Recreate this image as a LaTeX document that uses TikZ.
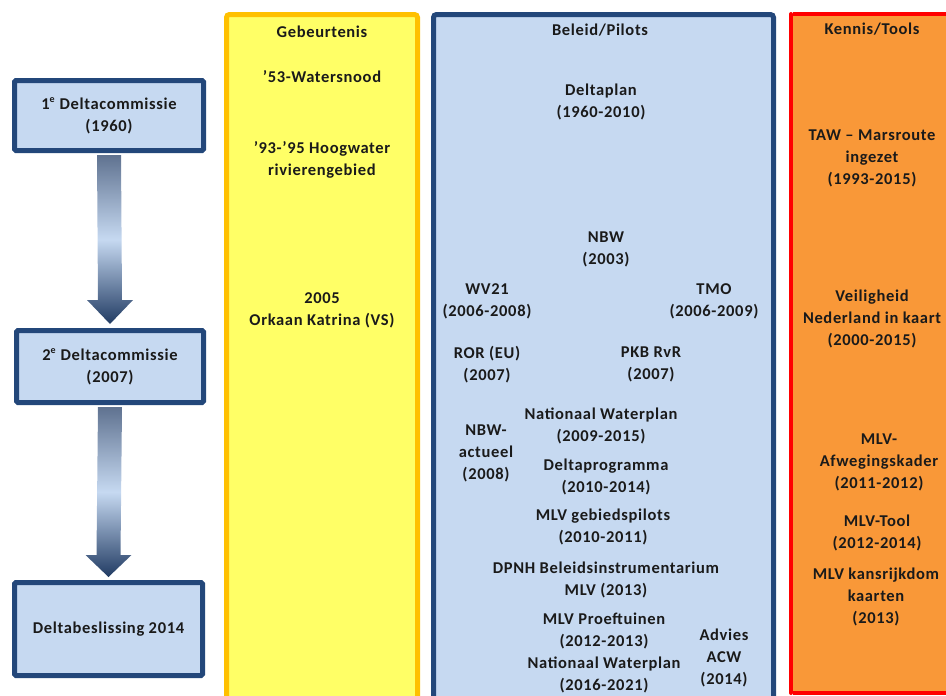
\documentclass[tikz,border=0pt]{standalone}
\usepackage{fontspec}
\setmainfont[LetterSpace=4]{Carlito}
\usetikzlibrary{calc}

\definecolor{boxblue}{HTML}{C6D9F1}
\definecolor{navy}{HTML}{23477A}
\definecolor{colyellow}{HTML}{FFFF66}
\definecolor{goldline}{HTML}{FFC000}
\definecolor{colorange}{HTML}{F99838}
\definecolor{redline}{HTML}{FF0000}
\definecolor{arrowdark}{HTML}{213B63}
\definecolor{arrowgrey}{HTML}{5F7290}
\definecolor{txt}{HTML}{1A1A1A}

\tikzset{
  stagebox/.style={draw=navy, fill=boxblue, line width=5pt, rounded corners=1.5pt,
    align=center, inner sep=0pt},
  column/.style={line width=5pt, rounded corners=3pt, inner sep=0pt},
  entry/.style={align=center, inner sep=0pt, text=txt,
    font=\fontsize{16.5}{22}\selectfont\bfseries},
  flowarrow/.style={top color=arrowgrey, bottom color=arrowdark, middle color=boxblue}
}

\begin{document}
\begin{tikzpicture}[x=1pt, y=-1pt]
\useasboundingbox (0,0) rectangle (946,696);
\begin{scope}
\clip (0,0) rectangle (946,696);

% background columns
\node[column, draw=goldline, fill=colyellow, minimum width=191, minimum height=720]
  (geb) at (322,374.5) {};
\node[column, draw=navy, fill=boxblue, minimum width=340, minimum height=720]
  (bel) at (603.5,374.5) {};
% the knowledge column runs off the right edge
\fill[colorange] (791,14) rectangle (960,693);
\draw[redline, line width=4pt] (960,14) -- (793,14);
\draw[redline, line width=4pt] (960,693) -- (793,693);
\draw[redline, line width=4pt, line cap=round] (791,14) -- (791,693);
\end{scope}
\coordinate (ken) at (872,353.5);

% stage boxes on the left
\node[stagebox, entry, minimum width=189, minimum height=70] (dc1) at (109,115.5)
  {1\textsuperscript{\fontsize{10}{10}\selectfont e} Deltacommissie\\(1960)};
\node[stagebox, entry, minimum width=187, minimum height=72] (dc2) at (110,366.5)
  {2\textsuperscript{\fontsize{10}{10}\selectfont e} Deltacommissie\\(2007)};
\node[stagebox, entry, minimum width=188, minimum height=93] (db) at (108.5,629)
  {Deltabeslissing 2014};

% shaded arrows between the stages
\path[flowarrow]
  ($(dc1.south)+(-12,2)$) -- ($(dc1.south)+(12,2)$) --
  ($(dc2.north)+(12,-28)$) -- ($(dc2.north)+(23,-28)$) --
  ($(dc2.north)+(0,-4)$) --
  ($(dc2.north)+(-23,-28)$) -- ($(dc2.north)+(-12,-28)$) -- cycle;
\path[flowarrow]
  ($(dc2.south)+(-12,2)$) -- ($(dc2.south)+(12,2)$) --
  ($(db.north)+(12,-25)$) -- ($(db.north)+(23,-25)$) --
  ($(db.north)+(0,-3)$) --
  ($(db.north)+(-23,-25)$) -- ($(db.north)+(-12,-25)$) -- cycle;

% Gebeurtenis
\node[entry] (gh) at (322,32) {Gebeurtenis};
\node[entry] (g1) at (322,77) {’53-Watersnood};
\node[entry] (g2) at (322,160) {’93-’95 Hoogwater\\rivierengebied};
\node[entry] (g3) at (322,310.5) {2005\\Orkaan  Katrina  (VS)};

% Beleid/Pilots
\node[entry] (bh) at (600,30) {Beleid/Pilots};
\node[entry] (b1) at (601,101.5) {Deltaplan\\(1960-2010)};
\node[entry] (b2) at (606,249.5) {NBW\\(2003)};
\node[entry] (b3) at (487,301.5) {WV21\\(2006-2008)};
\node[entry] (b4) at (714,301.5) {TMO\\(2006-2009)};
\node[entry] (b5) at (487,364.5) {ROR (EU)\\(2007)};
\node[entry] (b6) at (651,364.5) {PKB RvR\\(2007)};
\node[entry] (b7) at (486,453) {NBW-\\actueel\\(2008)};
\node[entry] (b8) at (601,425.5) {Nationaal  Waterplan\\(2009-2015)};
\node[entry] (b9) at (606,476.5) {Deltaprogramma\\(2010-2014)};
\node[entry] (b10) at (603,527) {MLV gebiedspilots\\(2010-2011)};
\node[entry] (b11) at (606,580) {DPNH Beleidsinstrumentarium\\MLV (2013)};
\node[entry] (b12) at (604,631) {MLV Proeftuinen\\(2012-2013)};
\node[entry] (b13) at (604,674.5) {Nationaal  Waterplan\\(2016-2021)};
\node[entry] (b14) at (724,657.5) {Advies\\ACW\\(2014)};

% Kennis/Tools
\node[entry] (kh) at (872,29) {Kennis/Tools};
\node[entry] (k1) at (872,158.5) {TAW  – Marsroute\\ingezet\\(1993-2015)};
\node[entry] (k2) at (872,318.5) {Veiligheid\\Nederland in kaart\\(2000-2015)};
\node[entry] (k3) at (879,462) {MLV-\\Afwegingskader\\(2011-2012)};
\node[entry] (k4) at (877,533) {MLV-Tool\\(2012-2014)};
\node[entry] (k5) at (876,597) {MLV kansrijkdom\\kaarten\\(2013)};
\end{tikzpicture}
\end{document}
